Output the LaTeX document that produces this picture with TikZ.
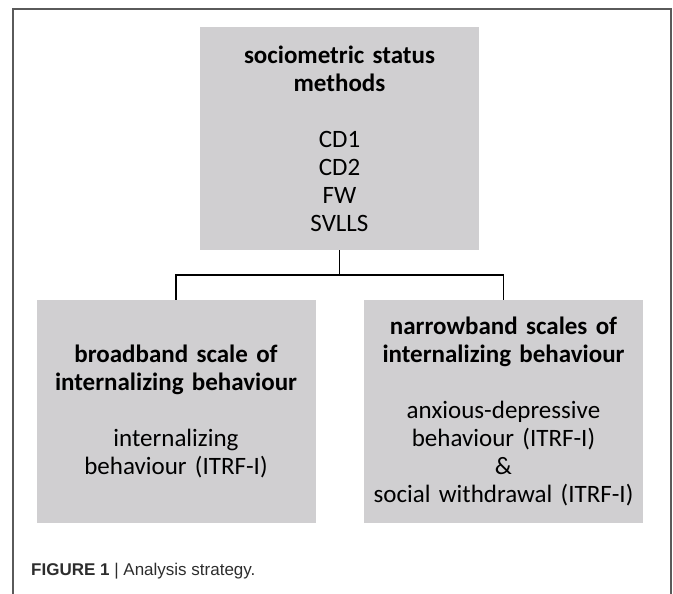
\documentclass[tikz,border=0pt]{standalone}
\usepackage{fontspec}
\setmainfont{Carlito}
\newfontfamily\captionfont{Liberation Sans}
\definecolor{boxgray}{RGB}{208,207,209}
\definecolor{framegray}{RGB}{90,90,90}
\definecolor{captiongray}{RGB}{45,45,45}
\tikzset{
    level/.style={fill=boxgray, minimum width=279pt, minimum height=223pt, inner sep=0pt,
        text width=272pt, align=center, font=\fontsize{25}{28}\selectfont},
    joint/.style={line width=1.4pt, black}
}

\begin{document}
\begin{tikzpicture}[x=1pt, y=-1pt]
                    \useasboundingbox (0,0) rectangle (673,594);
                    \draw[framegray, line width=1.5pt] (13,594) |- (671,9) -- (671,594);
                    \node[level] (methods) at (339.5,138.5)
                        {\textbf{sociometric status}\\\textbf{methods}\\[28pt]CD1\\CD2\\FW\\SVLLS};
                    \node[level] (broadband) at (176,411.5)
                        {\textbf{broadband scale of}\\\textbf{internalizing behaviour}\\[28pt]internalizing\\behaviour (ITRF-I)};
                    \node[level] (narrowband) at (503.5,411.5)
                        {\textbf{narrowband scales of}\\\textbf{internalizing behaviour}\\[28pt]anxious-depressive\\behaviour (ITRF-I)\\\&\\social withdrawal (ITRF-I)};
                    \coordinate (split) at (339.5,275);
                    \draw[joint] (methods.south) -- (split);
                    \draw[joint] (broadband.north) |- (split) -| (narrowband.north);
                    \node[anchor=west, inner sep=0pt, text=captiongray, font=\captionfont\fontsize{17}{19}\selectfont] (caption) at (31,571)
                        {\textbf{FIGURE 1} | Analysis strategy.};
                \end{tikzpicture}
\end{document}
